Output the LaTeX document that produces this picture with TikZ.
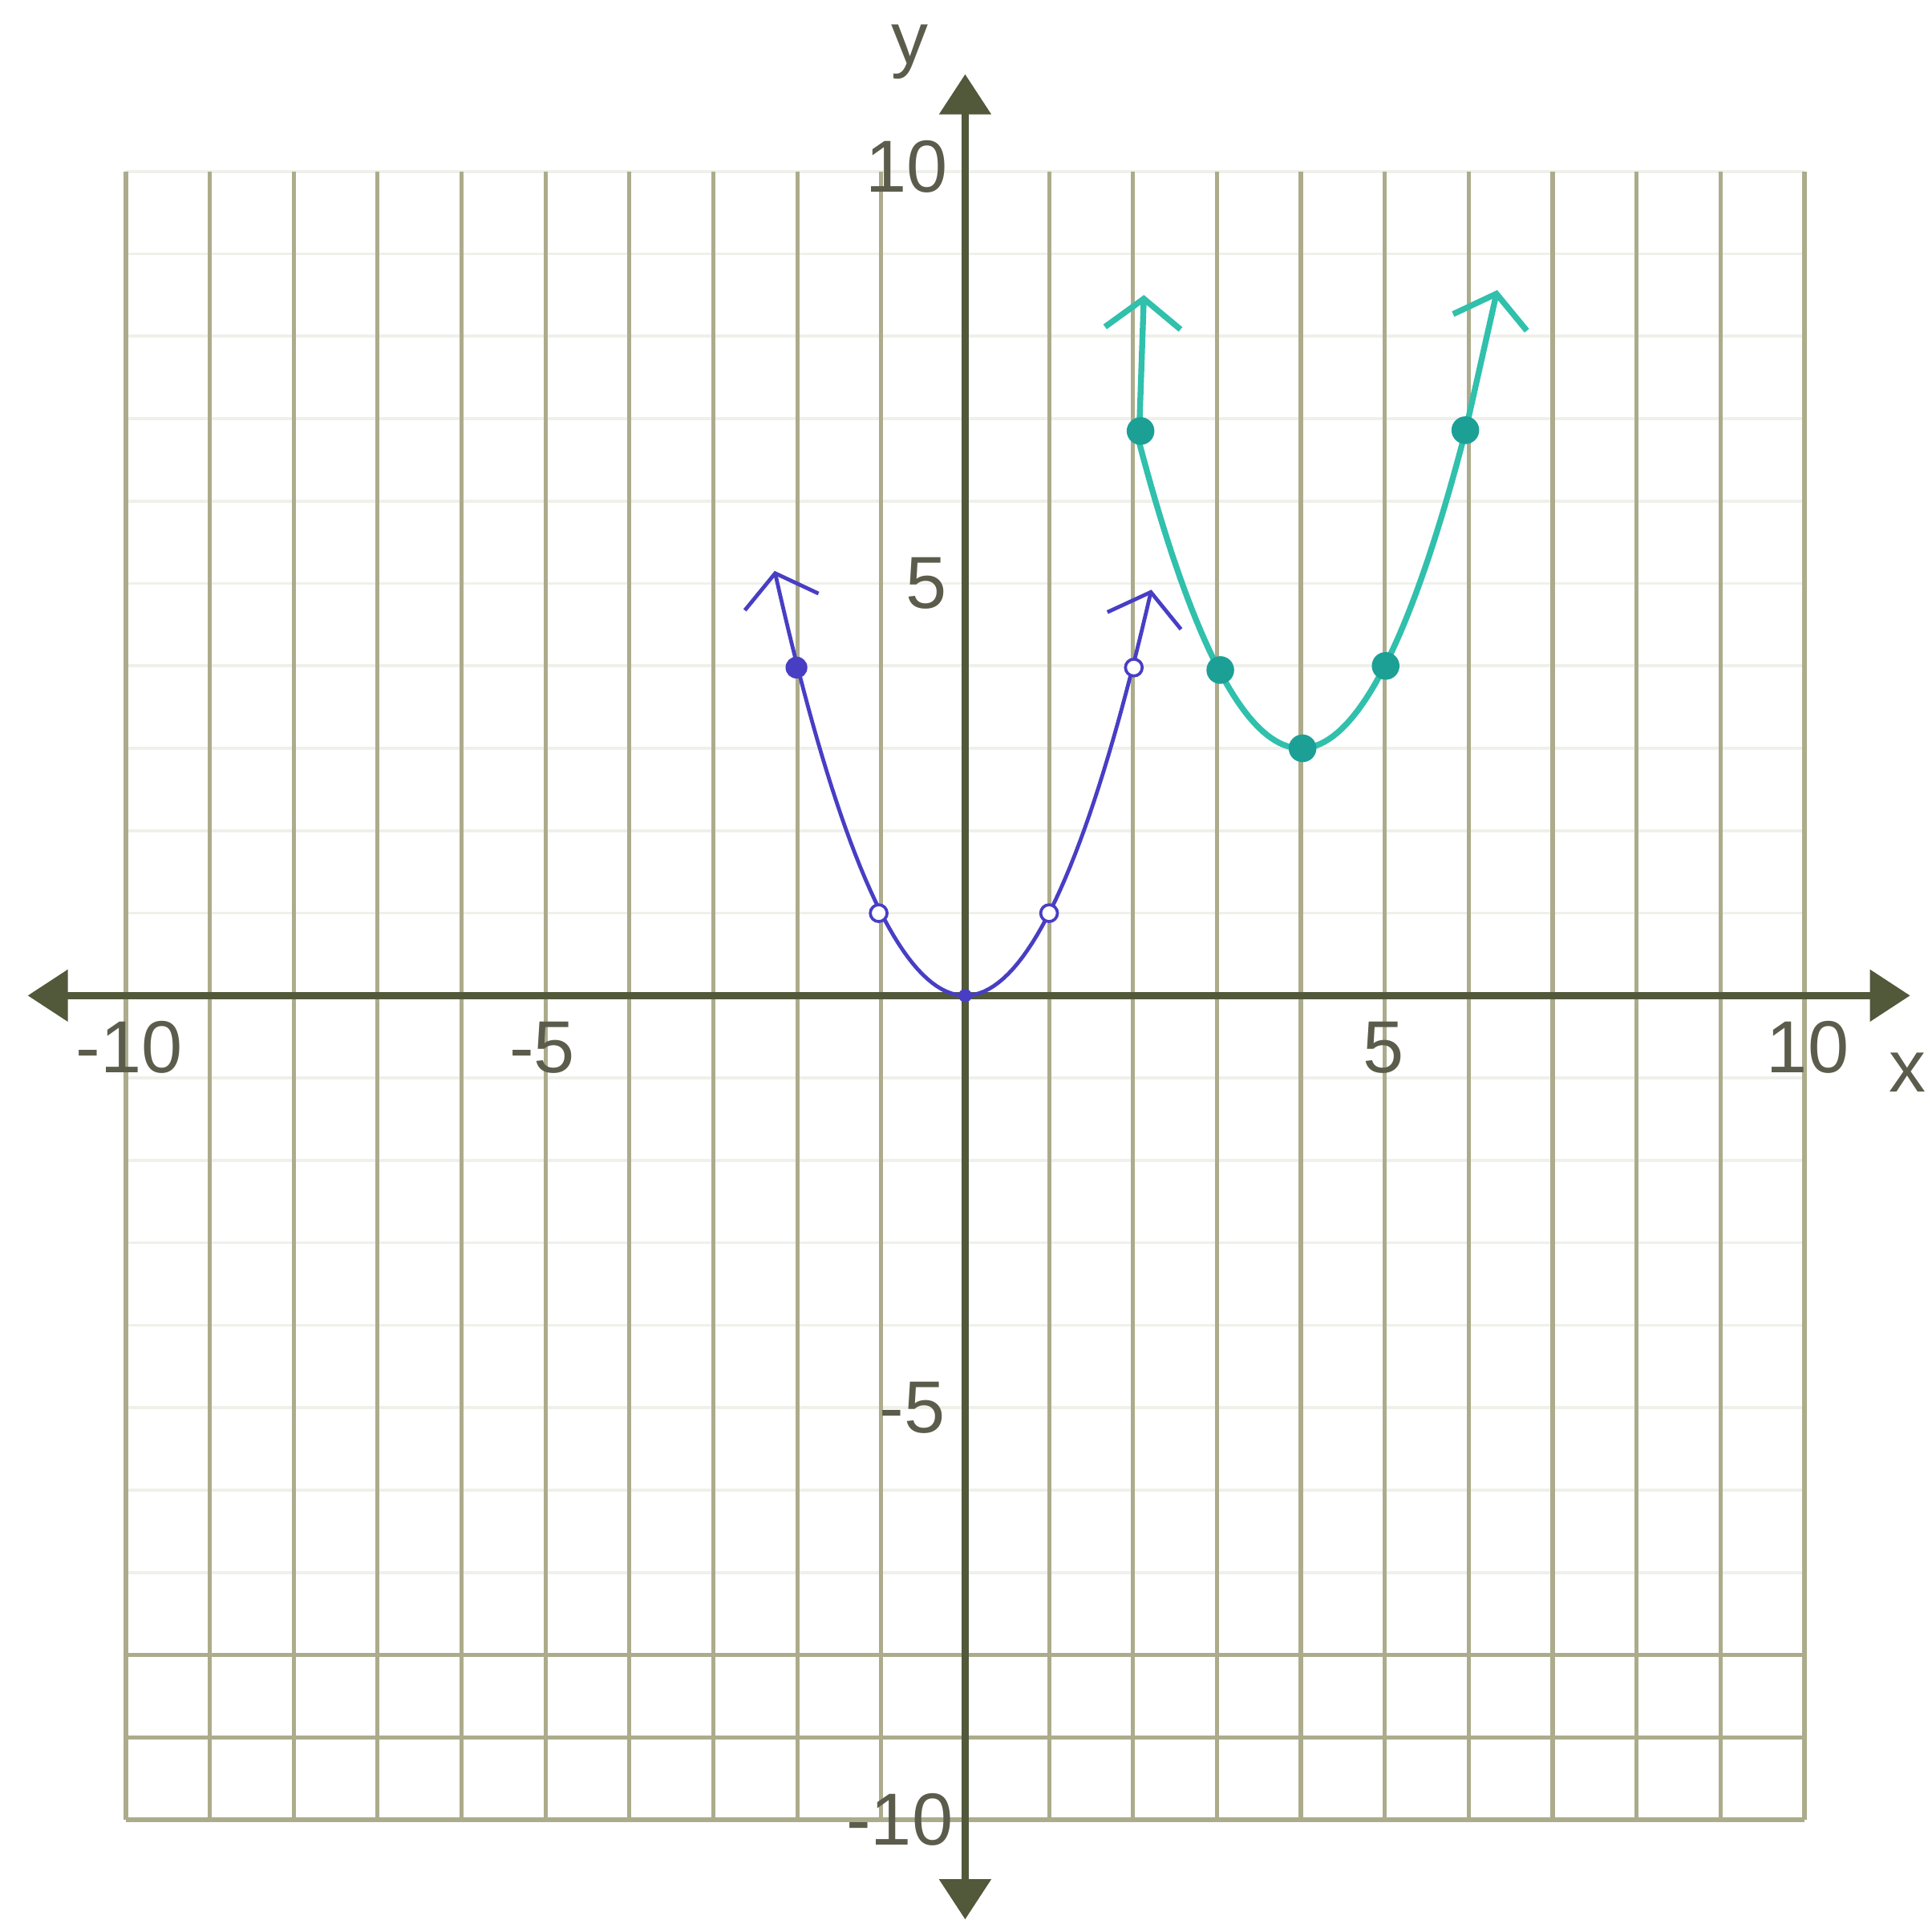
\documentclass[tikz,border=0pt]{standalone}
\usepackage{fontspec}
\setmainfont{Liberation Sans}
\usetikzlibrary{arrows.meta}
\definecolor{halosz}{RGB}{172,172,140}
\definecolor{tengsz}{RGB}{82,88,58}
\definecolor{betusz}{RGB}{92,92,76}
\definecolor{keksz}{RGB}{72,62,196}
\definecolor{turksz}{RGB}{48,192,172}
\definecolor{turkpsz}{RGB}{28,160,150}
\tikzset{
  halo/.style={draw=halosz,line width=1.4pt},
  halvany/.style={draw=halosz!18,line width=1pt},
  tengely/.style={draw=tengsz,line width=2.6pt,
    {Triangle[length=4.8mm,width=6mm]}-{Triangle[length=4.8mm,width=6mm]}},
  felirat/.style={text=betusz,inner sep=0pt,font=\fontsize{25}{29}\selectfont},
  ketnyil/.style={{Straight Barb[length=3.5mm,width=9mm]}-{Straight Barb[length=3.5mm,width=9mm]}},
  kek/.style={draw=keksz,line width=1.3pt},
  turk/.style={draw=turksz,line width=2pt},
  kekpont/.style={circle,fill=keksz,inner sep=0pt,minimum size=2.6mm},
  kekures/.style={circle,draw=keksz,fill=white,line width=1pt,inner sep=0pt,minimum size=2mm},
  turkpont/.style={circle,fill=turkpsz,inner sep=0pt,minimum size=3.3mm},
}
\begin{document}
\begin{tikzpicture}[x=1cm,y=0.982cm]
  \useasboundingbox (-11.5,-11.26) rectangle (11.52,12.08);
  % racs
  \foreach \j in {-7,...,10} \draw[halvany] (-10,\j) -- (10,\j);
  \foreach \j in {-10,-9,-8} \draw[halo] (-10,\j) -- (10,\j);
  \foreach \i in {-10,...,10} \draw[halo] (\i,-10) -- (\i,10);
  % tengelyek
  \coordinate (xbal) at (-11.17,0); \coordinate (xjobb) at (11.26,0);
  \coordinate (yle) at (0,-11.21); \coordinate (yfel) at (0,11.18);
  \draw[tengely] (xbal) -- (xjobb); \draw[tengely] (yle) -- (yfel);
  \node[felirat] (xnev) at (11.23,-0.93) {x};
  \node[felirat] (ynev) at (-0.66,11.45) {y};
  \node[felirat] (xm10) at (-9.96,-0.63) {-10};
  \node[felirat] (xm5) at (-5.04,-0.63) {-5};
  \node[felirat] (x5) at (4.98,-0.63) {5};
  \node[felirat] (x10) at (10.04,-0.63) {10};
  \node[felirat] (y10) at (-0.70,10.06) {10};
  \node[felirat] (y5) at (-0.46,5.0) {5};
  \node[felirat] (ym5) at (-0.63,-5.0) {-5};
  \node[felirat] (ym10) at (-0.78,-10.0) {-10};
  % y = x^2
  \draw[kek,ketnyil] plot[domain=-2.27:2.22,samples=80] (\x,{\x*\x});
  \node[kekpont] (b1) at (-2.01,3.98) {};
  \node[kekpont,minimum size=1.6mm] (b3) at (0,0) {};
  \foreach \n/\x/\y in {b2/-1.03/1, b4/1/1, b5/2.01/3.98}
    \node[kekures] (\n) at (\x,\y) {};
  % y = (x-4)^2 + 3
  \coordinate (tbal) at (2.13,8.5); \coordinate (tjobb) at (6.34,8.56);
  \draw[turk,ketnyil] (tbal) -- plot[domain=2.07:5.96,samples=80] (\x,{(\x-4)^2+3}) -- (tjobb);
  \foreach \n/\x/\y in {t1/2.09/6.85, t2/3.04/3.95, t3/4.02/3.0, t4/5.01/4.0, t5/5.96/6.86}
    \node[turkpont] (\n) at (\x,\y) {};
\end{tikzpicture}
\end{document}
